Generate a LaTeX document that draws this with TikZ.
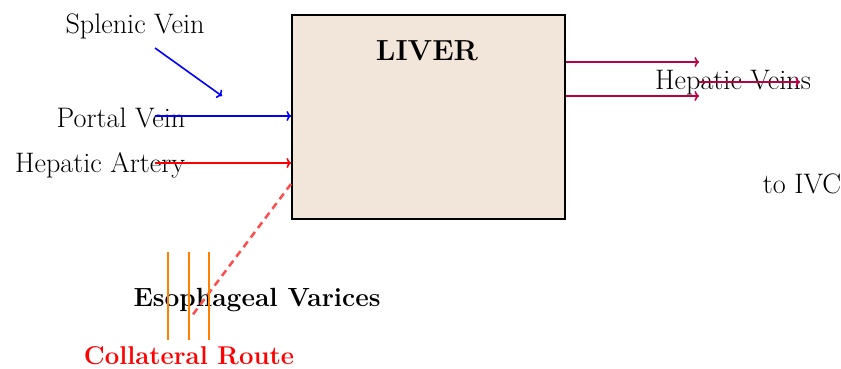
\documentclass[tikz,border=0pt]{standalone}
\usepackage{fontspec}
\usetikzlibrary{arrows.meta}
\begin{document}
\begin{tikzpicture}[x=1pt,y=-1pt,
  lbl/.style={anchor=base,inner sep=0pt,font=\fontsize{28.2}{32}\selectfont},
  blbl/.style={anchor=base,inner sep=0pt,font=\fontsize{26.3}{30}\selectfont\bfseries},
  flow/.style={line width=1.6pt,-{To[length=4.5pt,width=10pt]}},
  varix/.style={draw=orange,line width=2.2pt}]
\useasboundingbox (0,0) rectangle (841,369);
% liver
\node[draw=black,line width=2pt,fill=brown!20,minimum width=273pt,minimum height=204pt,inner sep=0pt,anchor=north west] (liver) at (291,14) {};
\node[anchor=base,inner sep=0pt,font=\fontsize{29}{33}\selectfont\bfseries] (livert) at (427,60) {LIVER};
% labels
\node[lbl] (splenic) at (135,34) {Splenic Vein};
\node[lbl] (portal) at (121,127) {Portal Vein};
\node[lbl] (artery) at (100,172) {Hepatic Artery};
\node[lbl] (hveins) at (733,89) {Hepatic Veins};
\node[lbl] (ivc) at (802,193) {to IVC};
\node[blbl] (varices) at (257,306) {Esophageal Varices};
\node[blbl,text=red,font=\fontsize{25.7}{30}\selectfont\bfseries] (collat) at (189,364) {Collateral Route};
% coordinates
\coordinate (s1) at (155,48); \coordinate (s2) at (222,96);
\coordinate (p1) at (155,116); \coordinate (p2) at (liver.west |- p1);
\coordinate (a1) at (155,163); \coordinate (a2) at (liver.west |- a1);
\coordinate (h1a) at (liver.east |- 0,62); \coordinate (h1b) at (699,62);
\coordinate (h2a) at (liver.east |- 0,96); \coordinate (h2b) at (699,96);
\coordinate (h3a) at (699,82); \coordinate (h3b) at (800,82);
\coordinate (d1) at (liver.west |- 0,184); \coordinate (d2) at (191,317);
% arrows
\draw[flow,blue] (s1) -- (s2);
\draw[flow,blue] (p1) -- (p2);
\draw[flow,red] (a1) -- (a2);
\draw[flow,purple] (h1a) -- (h1b);
\draw[flow,purple] (h2a) -- (h2b);
\draw[flow,purple] (h3a) -- (h3b);
\draw[red!70,line width=2.5pt,dash pattern=on 7pt off 5pt] (d1) -- (d2);
% varices
\foreach \x/\n in {168/v1,189/v2,209/v3} {
  \coordinate (\n t) at (\x,252); \coordinate (\n b) at (\x,340);
  \draw[varix] (\n t) -- (\n b);
}
\end{tikzpicture}
\end{document}
